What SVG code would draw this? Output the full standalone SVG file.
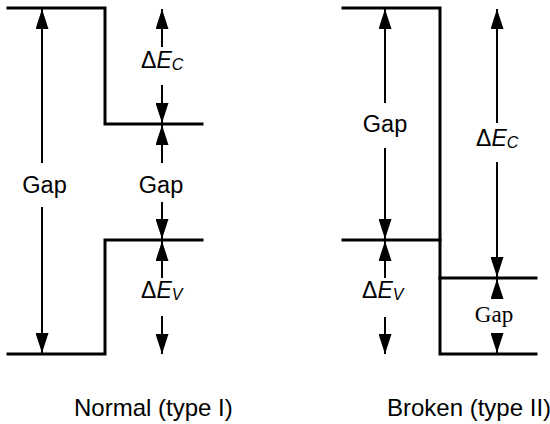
<svg xmlns="http://www.w3.org/2000/svg" width="550" height="424" viewBox="0 0 550 424">
<style>
.lvl{fill:none;stroke:#000;stroke-width:3;stroke-linecap:square}
.arr{fill:none;stroke:#000;stroke-width:2;marker-end:url(#ah)}
.t{font-family:"Liberation Sans",Arial,sans-serif;font-size:23.5px;fill:#000}
.b{font-family:"Liberation Sans",Arial,sans-serif;font-size:24px;fill:#000}
.s{font-family:"Liberation Serif","Times New Roman",serif;font-size:23px;fill:#000}
.sym{font-family:"Liberation Sans",Arial,sans-serif;font-size:23px;fill:#000}
.it{font-style:italic}
</style>
<defs>
<marker id="ah" markerUnits="userSpaceOnUse" markerWidth="20" markerHeight="13" refX="20" refY="6.5" orient="auto" viewBox="0 0 20 13">
<path d="M0,0 L20,6.5 L0,13 z" fill="#000"/>
</marker>
</defs>
<g id="normal-bands">
<path class="lvl" d="M8,8 H105 V124 H202"/>
<path class="lvl" d="M8,354 H105 V240 H202"/>
</g>
<g id="broken-bands">
<path class="lvl" d="M343,8 H440 V354 H536"/>
<path class="lvl" d="M343,240 H440"/>
<path class="lvl" d="M440,278 H536"/>
</g>
<g id="connectors">
<line class="arr" x1="42" y1="163" x2="42" y2="9"/>
<line class="arr" x1="42" y1="207" x2="42" y2="353"/>
<line class="arr" x1="162" y1="47" x2="162" y2="9"/>
<line class="arr" x1="162" y1="85" x2="162" y2="123"/>
<line class="arr" x1="162" y1="163" x2="162" y2="125"/>
<line class="arr" x1="162" y1="202" x2="162" y2="239"/>
<line class="arr" x1="162" y1="278" x2="162" y2="241"/>
<line class="arr" x1="162" y1="316" x2="162" y2="354"/>
<line class="arr" x1="385" y1="103" x2="385" y2="9"/>
<line class="arr" x1="385" y1="148" x2="385" y2="239"/>
<line class="arr" x1="385" y1="278" x2="385" y2="241"/>
<line class="arr" x1="385" y1="317" x2="385" y2="354"/>
<line class="arr" x1="497" y1="123" x2="497" y2="9"/>
<line class="arr" x1="497" y1="162" x2="497" y2="277"/>
<line class="arr" x1="497" y1="298" x2="497" y2="279"/>
<line class="arr" x1="497" y1="334" x2="497" y2="353"/>
</g>
<g id="normal-labels">
<text class="t" x="44.5" y="193" text-anchor="middle">Gap</text>
<text class="t" x="161" y="193" text-anchor="middle">Gap</text>
<text class="sym" x="141" y="68">Δ<tspan class="it">E</tspan><tspan class="it" font-size="16" dy="2">C</tspan></text>
<text class="sym" x="141" y="298">Δ<tspan class="it">E</tspan><tspan class="it" font-size="16" dy="2">V</tspan></text>
<text class="b" x="74" y="416">Normal (type I)</text>
</g>
<g id="broken-labels">
<text class="t" x="385" y="132" text-anchor="middle">Gap</text>
<text class="sym" x="476" y="146">Δ<tspan class="it">E</tspan><tspan class="it" font-size="16" dy="2">C</tspan></text>
<text class="sym" x="362" y="298">Δ<tspan class="it">E</tspan><tspan class="it" font-size="16" dy="2">V</tspan></text>
<text class="s" x="494" y="322" text-anchor="middle">Gap</text>
<text class="b" x="387" y="416">Broken (type II)</text>
</g>
</svg>
